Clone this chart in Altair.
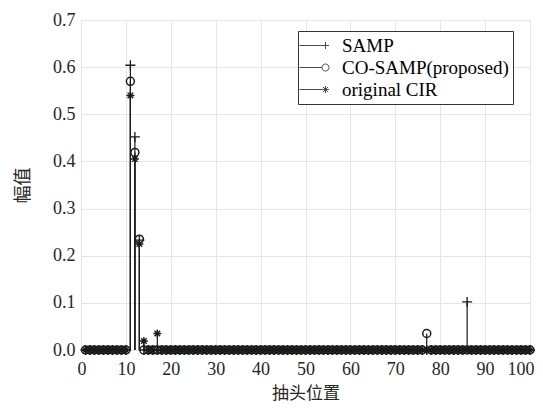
import altair as alt
import pandas as pd

# Tap positions 1..100; only non-zero taps listed
taps = list(range(1, 101))
series_names = ["SAMP", "CO-SAMP(proposed)", "original CIR"]

samp_taps = [11, 12, 13, 86]
samp_vals = [0.604, 0.452, 0.233, 0.102]

cosamp_taps = [11, 12, 13, 77]
cosamp_vals = [0.570, 0.419, 0.235, 0.035]

cir_taps = [11, 12, 13, 14, 17]
cir_vals = [0.540, 0.405, 0.225, 0.019, 0.035]

x_ticks = [0, 10, 20, 30, 40, 50, 60, 70, 80, 90, 100]
y_ticks = [0.0, 0.1, 0.2, 0.3, 0.4, 0.5, 0.6, 0.7]


def full(tp, vals):
    d = dict(zip(tp, vals))
    return [d.get(t, 0.0) for t in taps]


rows = []
for name, tp, vals in [
    (series_names[0], samp_taps, samp_vals),
    (series_names[1], cosamp_taps, cosamp_vals),
    (series_names[2], cir_taps, cir_vals),
]:
    for t, v in zip(taps, full(tp, vals)):
        rows.append({"tap": t, "value": v, "series": name})
df = pd.DataFrame(rows)

PLUS = "M-1,0L1,0M0,-1L0,1"
STAR = "M-1,0L1,0M0,-1L0,1M-0.7,-0.7L0.7,0.7M-0.7,0.7L0.7,-0.7"

LEG_PLUS = "M-1.3,0L1.3,0M0.95,0L1.65,0M1.3,-0.35L1.3,0.35"
LEG_CIRC = "M-1.3,0L0.95,0M1.65,0A0.35,0.35 0 1,1 0.95,0A0.35,0.35 0 1,1 1.65,0"
LEG_STAR = ("M-1.3,0L1.3,0M0.95,0L1.65,0M1.3,-0.35L1.3,0.35"
            "M1.05,-0.25L1.55,0.25M1.05,0.25L1.55,-0.25")

FONT = "Liberation Serif, Times New Roman, serif"
CJK = "Noto Sans CJK SC"

xscale = alt.Scale(domain=[0, 100], nice=False, zero=False)
yscale = alt.Scale(domain=[0, 0.7], nice=False)

xaxis = alt.Axis(values=x_ticks, title="抽头位置", labelFont=FONT, labelFontSize=18,
                 labelColor="#262626", titleFont=CJK, titleFontSize=17,
                 titleFontWeight="normal", titleColor="#262626", titlePadding=7,
                 labelPadding=10, tickSize=0, domain=False, gridColor="#e6e6e6",
                 labelFlush=True, labelFlushOffset=4)
yaxis = alt.Axis(values=y_ticks, format=".1f", title="幅值", labelFont=FONT,
                 labelFontSize=18, labelColor="#262626", titleFont=CJK,
                 titleFontSize=18, titleFontWeight="normal", titleColor="#262626",
                 titlePadding=20, labelPadding=6, tickSize=0, domain=False,
                 gridColor="#e6e6e6")

base = alt.Chart(df)

stems = base.mark_rule(color="#1a1a1a", strokeWidth=1.2).encode(
    x=alt.X("tap:Q", scale=xscale, axis=xaxis),
    y=alt.Y("value:Q", scale=yscale, axis=yaxis),
    y2=alt.datum(0),
)


def pts(name, shape, size, sw):
    return base.transform_filter(alt.datum.series == name).mark_point(
        filled=False, color="#1a1a1a", strokeWidth=sw, opacity=1
    ).encode(
        x=alt.X("tap:Q", scale=xscale),
        y=alt.Y("value:Q", scale=yscale),
        shape=alt.value(shape),
        size=alt.value(size),
    )


p_samp = pts(series_names[0], PLUS, 100, 1.3)
p_co = pts(series_names[1], "circle", 64, 1.5)
p_cir = pts(series_names[2], STAR, 64, 1.4)

leg_df = pd.DataFrame({"series": series_names, "tap": [-20, -20, -20], "value": [0.0, 0.0, 0.0]})
legend_layer = alt.Chart(leg_df).mark_point(
    filled=False, color="black", strokeWidth=1, clip=True, size=400
).encode(
    x=alt.X("tap:Q", scale=xscale),
    y=alt.Y("value:Q", scale=yscale),
    shape=alt.Shape(
        "series:N",
        scale=alt.Scale(domain=series_names, range=[LEG_PLUS, LEG_CIRC, LEG_STAR]),
        legend=alt.Legend(
            title=None, orient="none", legendX=217, legendY=11,
            labelFont=FONT, labelFontSize=19, labelColor="black",
            labelOffset=19, padding=4, rowPadding=1,
            strokeColor="#333333", fillColor="white", cornerRadius=0,
            symbolStrokeColor="black", symbolFillColor="transparent",
            symbolStrokeWidth=1, symbolSize=400, labelLimit=400,
        ),
    ),
)

chart = alt.layer(stems, p_samp, p_co, p_cir, legend_layer).properties(
    width=449, height=330,
    autosize=alt.AutoSizeParams(type="none"),
    padding={"left": 73, "top": 12, "right": 5, "bottom": 53},
).configure_view(stroke="#555555", strokeWidth=1).configure(background="white")

chart.save("out.html", embed_options={"renderer": "svg", "actions": False})
